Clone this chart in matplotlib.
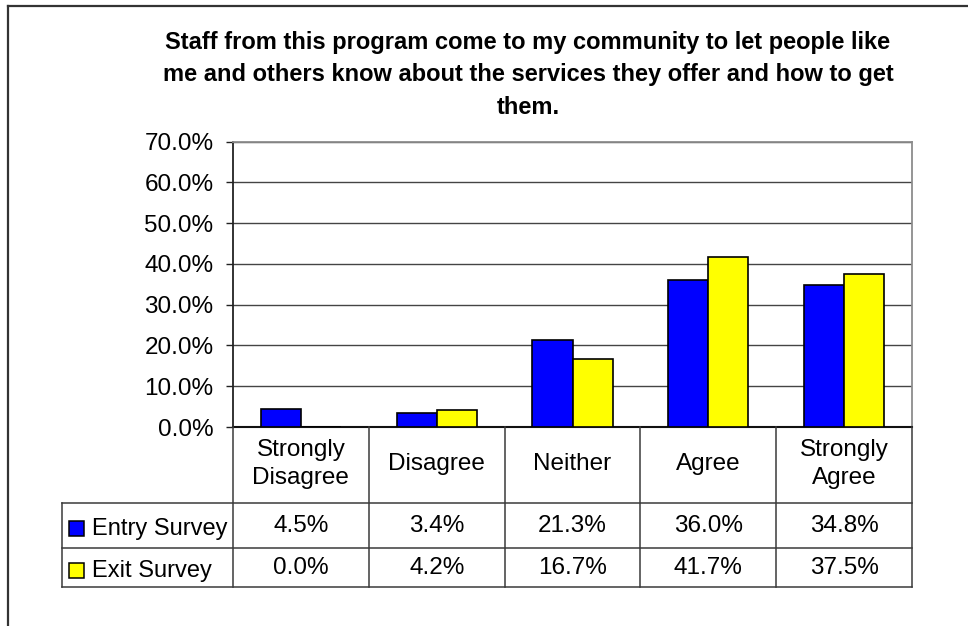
import matplotlib
matplotlib.use("Agg")
import matplotlib.pyplot as plt
from matplotlib.transforms import blended_transform_factory
from matplotlib.lines import Line2D
from matplotlib.patches import Rectangle

plt.rcParams['font.family'] = ['Liberation Sans', 'DejaVu Sans']

categories = ["Strongly\nDisagree", "Disagree", "Neither", "Agree", "Strongly\nAgree"]
series_names = ["Entry Survey", "Exit Survey"]
entry_values = [4.5, 3.4, 21.3, 36.0, 34.8]
exit_values = [0.0, 4.2, 16.7, 41.7, 37.5]
y_ticks = [0, 10, 20, 30, 40, 50, 60, 70]
title = ("Staff from this program come to my community to let people like\n"
         "me and others know about the services they offer and how to get\n"
         "them.")

colors = ["#0000FF", "#FFFF00"]
W, H = 968, 626
fig = plt.figure(figsize=(W / 100, H / 100), dpi=100)

def fx(px):
    return px / W

def fy(py):
    return 1 - py / H

FS = 17.5
ax_left, ax_right, ax_top, ax_bottom = 233, 912, 141.7, 427
ax = fig.add_axes([fx(ax_left), fy(ax_bottom), fx(ax_right - ax_left), (ax_bottom - ax_top) / H])

n = len(categories)
xs = list(range(n))
bw = 0.295
ax.bar([x - bw / 2 for x in xs], entry_values, width=bw, color=colors[0],
       edgecolor="black", linewidth=1.2, zorder=3)
ax.bar([x + bw / 2 for x in xs], exit_values, width=bw, color=colors[1],
       edgecolor="black", linewidth=1.2, zorder=3)

ax.set_xlim(-0.5, n - 0.5)
ax.set_ylim(0, 70)
ax.set_yticks(y_ticks)
ax.set_yticklabels([f"{v:.1f}%" for v in y_ticks], fontsize=FS)
ax.tick_params(axis="y", length=5, width=1, color="#222222", pad=9)
ax.set_xticks([])
ax.yaxis.grid(True, color="#444444", linewidth=1, zorder=0)
ax.set_axisbelow(True)
for side in ["top", "right"]:
    ax.spines[side].set_color("#8c8c8c")
    ax.spines[side].set_linewidth(1.3)
ax.spines["left"].set_color("#222222")
ax.spines["left"].set_linewidth(1.3)
ax.spines["bottom"].set_color("#111111")
ax.spines["bottom"].set_linewidth(1.5)

# data table under the plot
tr = blended_transform_factory(ax.transData, fig.transFigure)
row_header = (427, 503)
row_entry = (503, 548)
row_exit = (548, 587)
legend_left = 62
line_kw = dict(color="#3a3a3a", linewidth=1.1)

for x in xs:
    ax.text(x, fy(sum(row_header) / 2 - 1), categories[x], transform=tr, ha="center",
            va="center", fontsize=FS, linespacing=1.35)
    ax.text(x, fy(sum(row_entry) / 2), f"{entry_values[x]:.1f}%", transform=tr,
            ha="center", va="center", fontsize=FS)
    ax.text(x, fy(sum(row_exit) / 2), f"{exit_values[x]:.1f}%", transform=tr,
            ha="center", va="center", fontsize=FS)

for b in [x - 0.5 for x in xs] + [n - 0.5]:
    fig.add_artist(Line2D([b, b], [fy(row_header[0]), fy(row_exit[1])], transform=tr, **line_kw))
fig.add_artist(Line2D([fx(legend_left)] * 2, [fy(row_entry[0]), fy(row_exit[1])], **line_kw))
for yy in [row_entry[0], row_entry[1], row_exit[1]]:
    fig.add_artist(Line2D([fx(legend_left), fx(ax_right)], [fy(yy)] * 2, **line_kw))

for i, (name, (r0, r1)) in enumerate(zip(series_names, [row_entry, row_exit])):
    yc = (r0 + r1) / 2 + 3
    fig.add_artist(Rectangle((fx(69), fy(yc + 7.5)), fx(15), 15 / H, facecolor=colors[i],
                             edgecolor="black", linewidth=1.1))
    fig.text(fx(92), fy(yc), name, ha="left", va="center", fontsize=17)

fig.text(fx(528), fy(75), title, ha="center", va="center", fontsize=17,
         fontweight="bold", linespacing=1.55)

# chart frame
fig.add_artist(Line2D([fx(8), fx(8)], [fy(6), 0], color="#333333", linewidth=1.6))
fig.add_artist(Line2D([fx(8), 1], [fy(6), fy(6)], color="#333333", linewidth=1.6))

fig.savefig("out.png", dpi=100)
